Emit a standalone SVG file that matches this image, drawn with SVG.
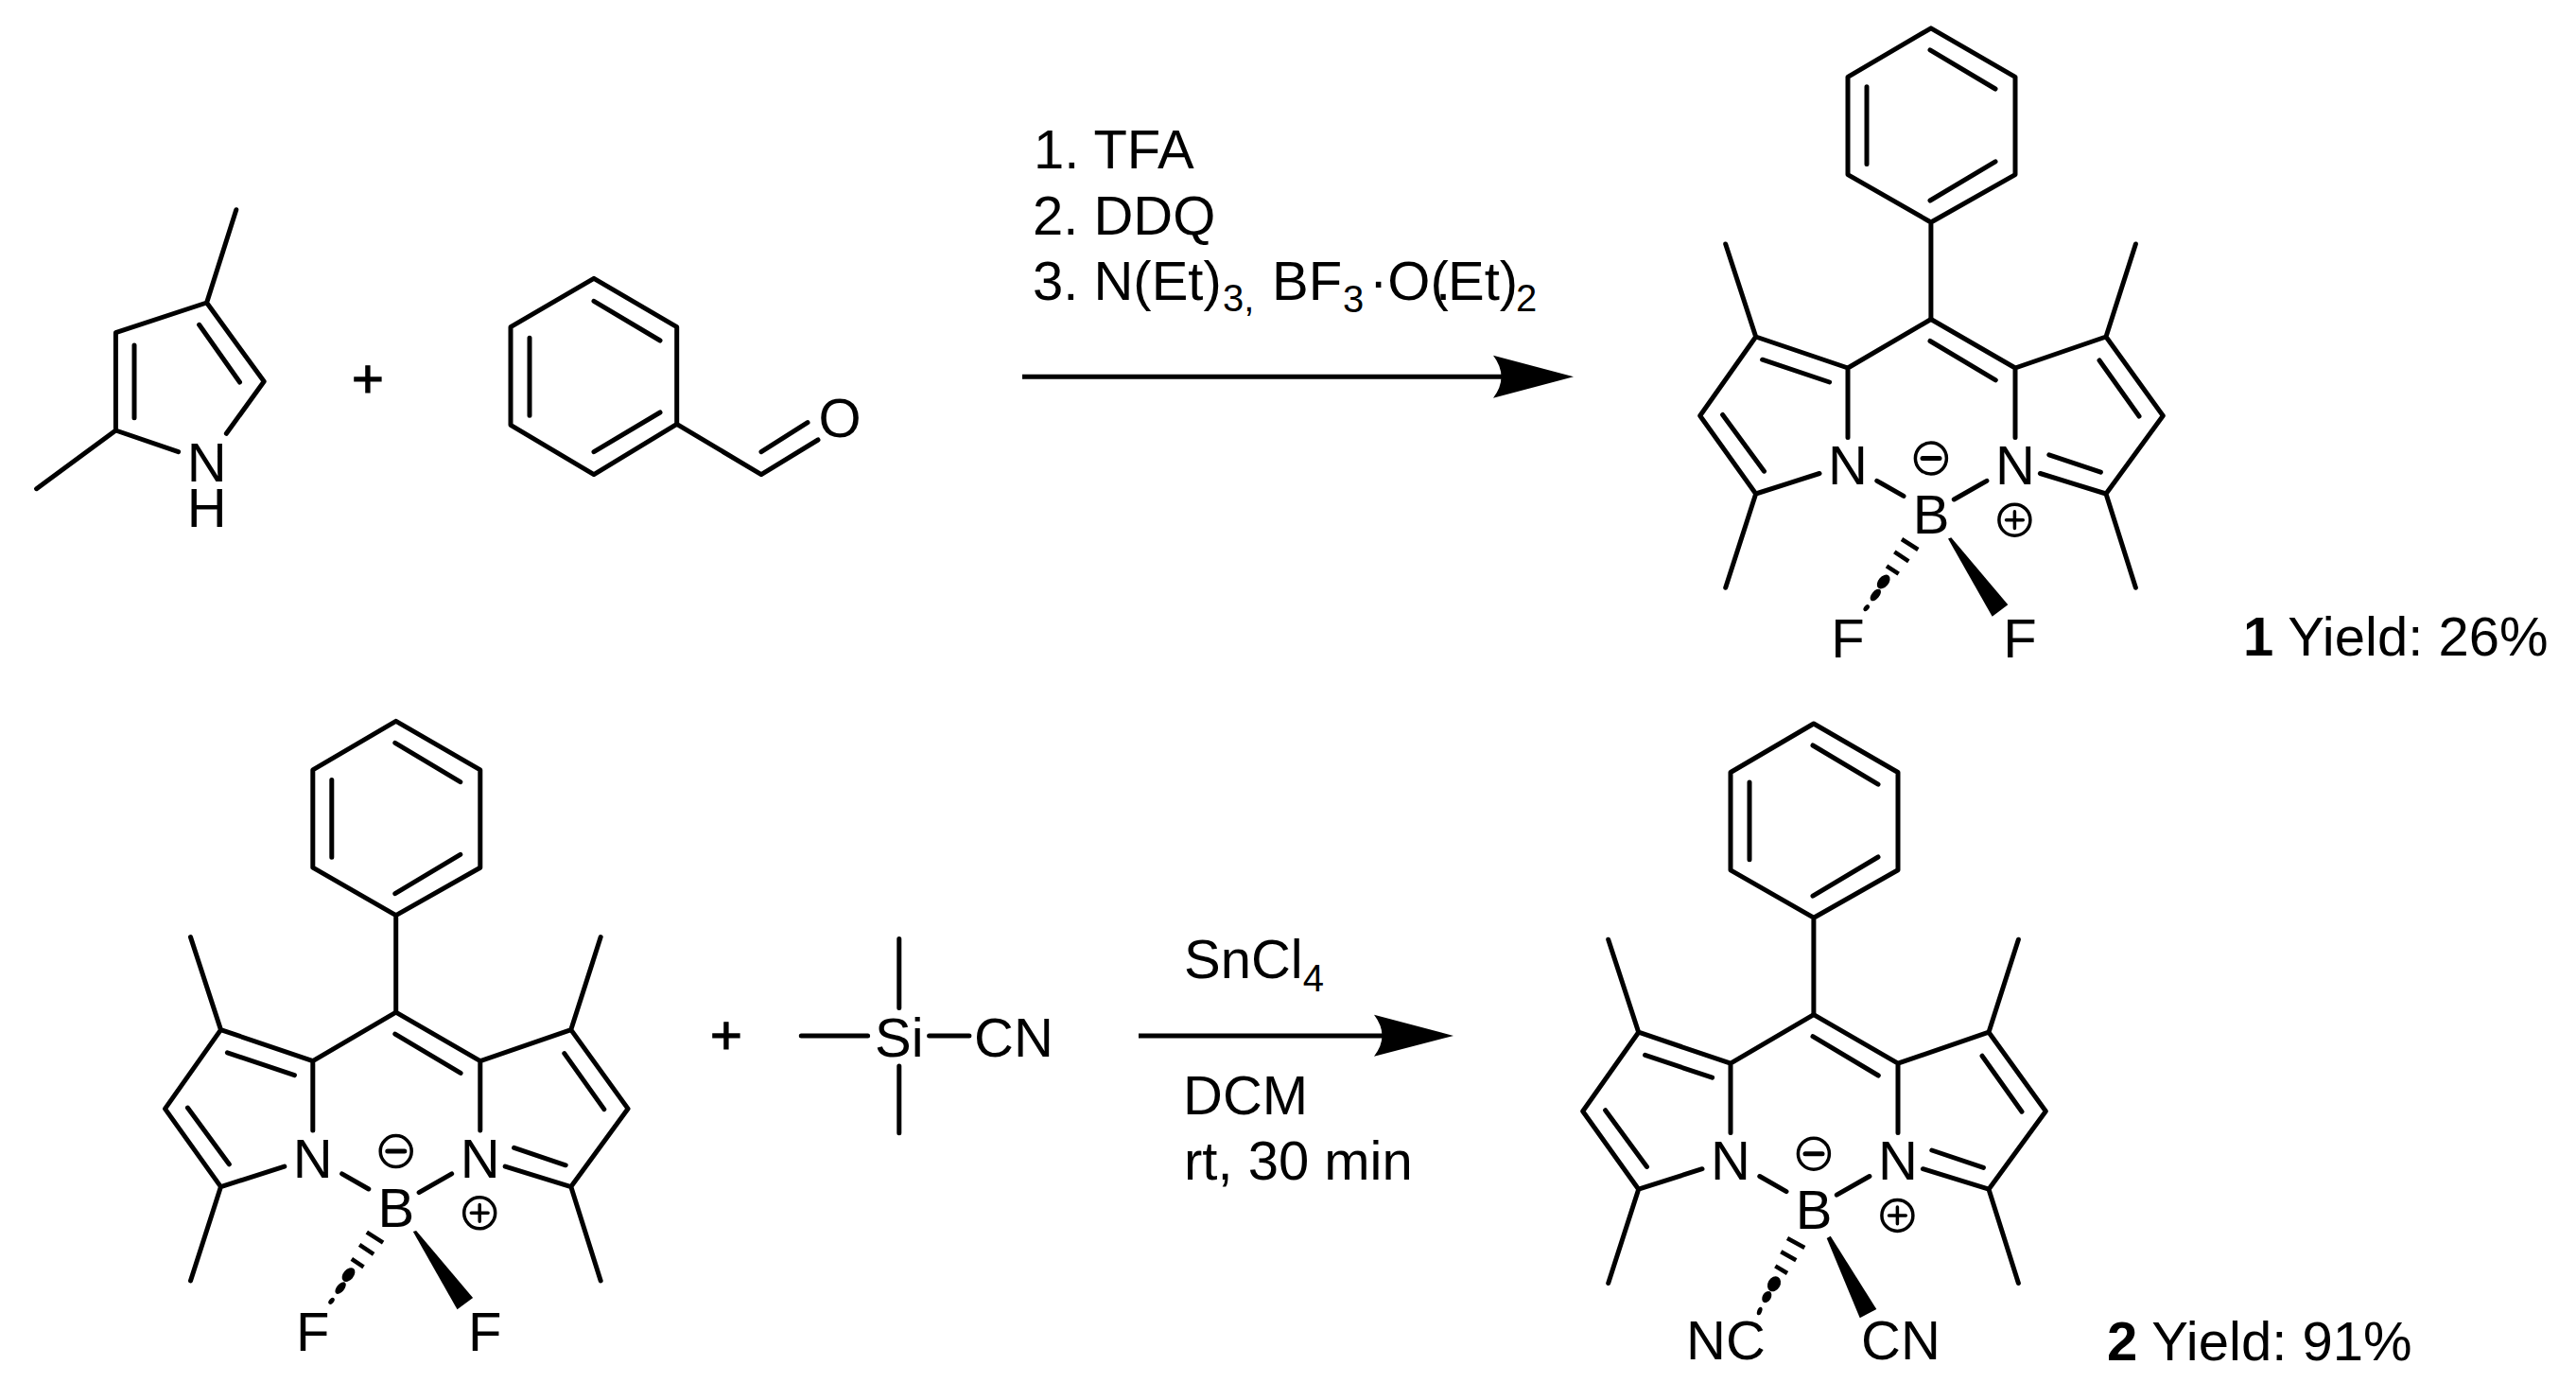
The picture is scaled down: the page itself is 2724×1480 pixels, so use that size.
<svg xmlns="http://www.w3.org/2000/svg" xmlns:xlink="http://www.w3.org/1999/xlink" width="2724" height="1480" viewBox="0 0 2724 1480">
<style>
text{font-family:"Liberation Sans",Arial,sans-serif;font-size:58px;fill:#000}
.a{text-anchor:middle}
.s{font-size:40px}
.b{font-weight:bold}
.p{stroke:#000;stroke-width:1.2}
.bond{fill:none;stroke:#000;stroke-width:5;stroke-linecap:round;stroke-linejoin:round}
.tick{fill:none;stroke:#000;stroke-width:4.5}
.chg{fill:none;stroke:#000;stroke-width:3.5}
.arrow{fill:none;stroke:#000;stroke-width:5}
.hd{fill:#000;stroke:none}
</style>
<defs>
<g id="skeleton" class="bond">
<path d="M2041.9 29.8L1954 81.3V184.6L2041.9 235L2131 184.6V81.3ZM2041 52.8L2110 94M1974 91.8V173.6M2041 212L2110 170.8M2041.9 235V337.5"/>
<path d="M1954 462.4V389L2041.9 337.5L2131 389V462.4M1954 389L1856.7 356L1797.7 439.5L1856.7 522L1924 500.5M1856.7 356L1824.7 258M1856.7 522L1824.7 621.3M2131 389L2227 356L2287.3 439.5L2227 522L2157.4 500.5M2227 356L2258.4 258M2227 522L2258.4 621.3"/>
<path d="M1984.8 508.3L2013 524.4M2066.3 528L2100.9 508.3M2166.8 480.8L2221.4 499.2M1863.6 380.2L1934.6 404M1821.6 438.5L1865.5 498.2M2041 360.5L2110.3 401.8M2220 381L2262 440"/>
</g>
<g id="charges">
<circle class="chg" cx="2041.9" cy="484.5" r="16.5"/>
<path class="bond" d="M2033 484.5H2051"/>
<circle class="chg" cx="2130.4" cy="549.7" r="16.5"/>
<path class="bond" d="M2121.5 549.7H2139.3M2130.4 540.8V558.6" style="stroke-width:3.5"/>
</g>
<g id="bf2bonds">
<polygon class="hd" points="2060,569.5 2063.3,568.3 2123.3,639.3 2106.7,651.7"/>
<path class="tick" d="M2011 570L2028.3 581M2003.3 583.3L2018.3 593.3M1995 598.3L2007.7 606.7"/>
<ellipse class="hd" cx="1991.7" cy="615" rx="8.5" ry="5.5" transform="rotate(-50 1991.7 615)"/>
<ellipse class="hd" cx="1983.3" cy="629" rx="7.5" ry="4" transform="rotate(-50 1983.3 629)"/>
<ellipse class="hd" cx="1973.7" cy="642.7" rx="4" ry="2.5" transform="rotate(-50 1973.7 642.7)"/>
</g>
</defs>
<rect width="2724" height="1480" fill="#fff"/>

<g id="pyrrole">
<path class="bond" d="M249.8 221.7L218.6 320L122.4 351.7V455L188.6 477.7M122.4 455L38.6 516.7M218.6 320L279.2 403.3L239.4 458.3M142 365V441.7M210.6 343.3L253.5 404"/>
<text class="a" x="218.8" y="509">N</text>
<text class="a" x="218.8" y="557">H</text>
</g>

<g id="plus1"><text class="a p" x="389" y="420">+</text></g>

<g id="benzaldehyde">
<path class="bond" d="M628 294.3L540 345.7V449.3L628 501.7L715.7 448.3V345.7ZM628 318.3L698 360M560 357.3V439.3M628 477.7L698 436M715.7 448.3L805 501.7L865 465M805 477.7L854 446.7"/>
<text class="a" x="888" y="462">O</text>
</g>

<g id="reagents1">
<text x="1093" y="177.7">1. TFA</text>
<text x="1092" y="247.7">2. DDQ</text>
<text y="316.7"><tspan x="1092">3. N(Et)</tspan><tspan class="s" x="1293" y="329">3,</tspan><tspan x="1345" y="316.7">BF</tspan><tspan class="s" x="1420" y="330">3</tspan><tspan x="1448" y="316.7">·O(</tspan><tspan x="1518">.</tspan><tspan x="1531">Et)</tspan><tspan class="s" x="1603" y="329">2</tspan></text>
</g>

<g id="compound1">
<use href="#skeleton" xlink:href="#skeleton"/>
<use href="#charges" xlink:href="#charges"/>
<use href="#bf2bonds" xlink:href="#bf2bonds"/>
<text class="a" x="1954" y="512">N</text>
<text class="a" x="2131" y="512">N</text>
<text class="a" x="2042" y="564">B</text>
<text class="a" x="1954" y="695">F</text>
<text class="a" x="2136" y="695">F</text>
</g>
<g id="yield1"><text x="2372" y="693.4"><tspan class="b">1</tspan> Yield: 26%</text></g>

<g id="bodipy" transform="translate(-1623.2 732.6)">
<use href="#skeleton" xlink:href="#skeleton"/>
<use href="#charges" xlink:href="#charges"/>
<use href="#bf2bonds" xlink:href="#bf2bonds"/>
<text class="a" x="1954" y="512">N</text>
<text class="a" x="2131" y="512">N</text>
<text class="a" x="2042" y="564">B</text>
<text class="a" x="1954" y="695">F</text>
<text class="a" x="2136" y="695">F</text>
</g>

<g id="plus2"><text class="a p" x="768" y="1114">+</text></g>

<g id="tmscn">
<path class="bond" d="M847.3 1094.9H917.6M982.6 1094.9H1024.9M950.8 992.5V1065.6M950.8 1127V1197.8"/>
<text x="925" y="1116.6">Si</text>
<text x="1030" y="1116.6">CN</text>
</g>

<g id="reagents2">
<text x="1252" y="1034">SnCl<tspan class="s" y="1048.3">4</tspan></text>
<text x="1251" y="1178.3">DCM</text>
<text x="1252" y="1246.7">rt, 30 min</text>
</g>

<g id="compound2" transform="translate(-124 735.2)">
<use href="#skeleton" xlink:href="#skeleton"/>
<use href="#charges" xlink:href="#charges"/>
<text class="a" x="1954" y="512">N</text>
<text class="a" x="2131" y="512">N</text>
<text class="a" x="2042" y="564">B</text>
</g>
<g id="cn-substituents">
<polygon class="hd" points="1931.7,1309 1935.7,1306.7 1984.3,1384 1966.7,1393.3"/>
<path class="tick" d="M1890 1309L1908.3 1319M1883.3 1323.3L1899.3 1332.3M1877.3 1338.3L1890 1346"/>
<ellipse class="hd" cx="1876" cy="1357.3" rx="8.5" ry="6.5" transform="rotate(-60 1876 1357.3)"/>
<ellipse class="hd" cx="1868.3" cy="1371" rx="6.5" ry="4.5" transform="rotate(-60 1868.3 1371)"/>
<ellipse class="hd" cx="1860.7" cy="1386" rx="4.5" ry="2.5" transform="rotate(-70 1860.7 1386)"/>
<text x="1783" y="1437.3">NC</text>
<text x="1968" y="1437.3">CN</text>
</g>
<g id="yield2"><text x="2228" y="1438.3"><tspan class="b">2</tspan> Yield: 91%</text></g>

<g id="connectors">
<path class="arrow" d="M1081 398.3H1592"/>
<path class="hd" d="M1664 398.3L1579 375.7Q1596 398.3 1579 420.7Z"/>
<path class="arrow" d="M1204 1095H1464"/>
<path class="hd" d="M1537 1095L1453 1072.7Q1470 1095 1453 1116.7Z"/>
</g>
</svg>
